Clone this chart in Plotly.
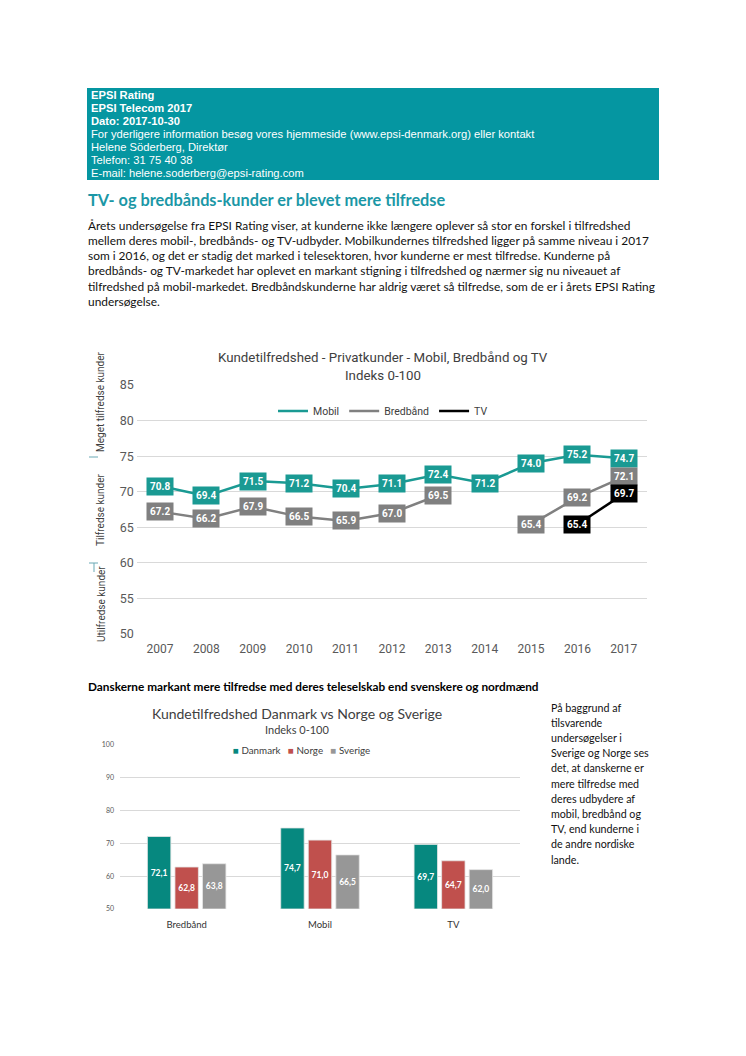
import plotly.graph_objects as go

W, H = 746, 1056
OFF = 8  # page body margin in the viewer
def px(x): return (x - OFF) / W
def py(y): return 1 - (y - OFF) / H

# ---------------- data ----------------
years = [2007, 2008, 2009, 2010, 2011, 2012, 2013, 2014, 2015, 2016, 2017]
mobil = [70.8, 69.4, 71.5, 71.2, 70.4, 71.1, 72.4, 71.2, 74.0, 75.2, 74.7]
bredbaand = [67.2, 66.2, 67.9, 66.5, 65.9, 67.0, 69.5, None, 65.4, 69.2, 72.1]
tv = [None, None, None, None, None, None, None, None, None, 65.4, 69.7]

bar_cats = ["Bredbånd", "Mobil", "TV"]
danmark = [72.1, 74.7, 69.7]
norge = [62.8, 71.0, 64.7]
sverige = [63.8, 66.5, 62.0]
bar_base = 50

header_lines = [
    "<b>EPSI Rating</b>",
    "<b>EPSI Telecom 2017</b>",
    "<b>Dato: 2017-10-30</b>",
    "For yderligere information besøg vores hjemmeside (www.epsi-denmark.org) eller kontakt",
    "Helene Söderberg, Direktør",
    "Telefon: 31 75 40 38",
    "E-mail: helene.soderberg@epsi-rating.com",
]
para_lines = [
    "Årets undersøgelse fra EPSI Rating viser, at kunderne ikke længere oplever så stor en forskel i tilfredshed",
    "mellem deres mobil-, bredbånds- og TV-udbyder. Mobilkundernes tilfredshed ligger på samme niveau i 2017",
    "som i 2016, og det er stadig det marked i telesektoren, hvor kunderne er mest tilfredse. Kunderne på",
    "bredbånds- og TV-markedet har oplevet en markant stigning i tilfredshed og nærmer sig nu niveauet af",
    "tilfredshed på mobil-markedet. Bredbåndskunderne har aldrig været så tilfredse, som de er i årets EPSI Rating",
    "undersøgelse.",
]
side_lines = [
    "På baggrund af", "tilsvarende", "undersøgelser i", "Sverige og Norge ses",
    "det, at danskerne er", "mere tilfredse med", "deres udbydere af",
    "mobil, bredbånd og", "TV, end kunderne i", "de andre nordiske", "lande.",
]

C_MOBIL = "#1a9a93"
C_BRED = "#808080"
C_TV = "#000000"
C_DK = "#06887f"
C_NO = "#c0504d"
C_SE = "#979797"
TEAL_HDR = "#0596a1"

TXT_FONT = "Lato"
CH_FONT = "Roboto"

fig = go.Figure()

# ---------------- line chart ----------------
for name, vals, col in [("Mobil", mobil, C_MOBIL), ("Bredbånd", bredbaand, C_BRED), ("TV", tv, C_TV)]:
    fig.add_trace(go.Scatter(
        x=years, y=vals, name=name, mode="lines",
        line=dict(color=col, width=2.5), connectgaps=False,
        xaxis="x", yaxis="y", legend="legend", hoverinfo="skip",
    ))

annotations = []
for vals, col in [(mobil, C_MOBIL), (bredbaand, C_BRED), (tv, C_TV)]:
    for xv, v in zip(years, vals):
        if v is None:
            continue
        annotations.append(dict(
            x=xv, y=v, xref="x", yref="y", text=f"<b>{v:.1f}</b>", showarrow=False,
            bgcolor=col, borderpad=3, font=dict(family=CH_FONT, size=10, color="white"),
        ))

# ---------------- bar chart ----------------
bar_series = [("Danmark", danmark, C_DK), ("Norge", norge, C_NO), ("Sverige", sverige, C_SE)]
for name, vals, col in bar_series:
    fig.add_trace(go.Bar(
        x=bar_cats, y=[v - bar_base for v in vals], base=bar_base, name=name,
        marker=dict(color=col, line=dict(color="#e6e6e6", width=0.8)),
        xaxis="x2", yaxis="y2", showlegend=False,
        text=[f"{v:.1f}".replace(".", ",") for v in vals],
        texttemplate="<b>%{text}</b>", textposition="inside", insidetextanchor="middle",
        textangle=0, textfont=dict(family=TXT_FONT, size=8.5, color="white"), hoverinfo="skip",
    ))

bar_legend = "   ".join(f'<span style="color:{c}">■</span> {n}' for n, _, c in bar_series)
annotations.append(dict(
    x=px(301), y=py(750), xref="paper", yref="paper", xanchor="center", yanchor="middle",
    text=bar_legend, showarrow=False, font=dict(family=TXT_FONT, size=9.8, color="#404040"),
))

# ---------------- shapes ----------------
shapes = [
    dict(type="rect", xref="paper", yref="paper", x0=px(87), x1=px(659), y0=py(180), y1=py(88),
         fillcolor=TEAL_HDR, line=dict(width=0), layer="below"),
    dict(type="line", xref="paper", yref="paper", x0=px(89), x1=px(98), y0=py(457), y1=py(457),
         line=dict(color="#6aa9b5", width=1)),
    dict(type="line", xref="paper", yref="paper", x0=px(89), x1=px(98), y0=py(563), y1=py(563),
         line=dict(color="#6aa9b5", width=1)),
    dict(type="line", xref="paper", yref="paper", x0=px(94), x1=px(94), y0=py(563), y1=py(572),
         line=dict(color="#6aa9b5", width=1)),
]

for i, t in enumerate(header_lines):
    annotations.append(dict(
        x=px(89), y=py(95 + 13 * i), xref="paper", yref="paper", xanchor="left", yanchor="middle",
        text=t, showarrow=False, font=dict(family="Liberation Sans", size=11.2, color="white"),
    ))

annotations.append(dict(
    x=px(86), y=py(199), xref="paper", yref="paper", xanchor="left", yanchor="middle",
    text="<b>TV- og bredbånds-kunder er blevet mere tilfredse</b>", showarrow=False,
    font=dict(family=TXT_FONT, size=16.3, color="#1b97a6"),
))
for i, t in enumerate(para_lines):
    annotations.append(dict(
        x=px(86), y=py(225 + 15.3 * i), xref="paper", yref="paper", xanchor="left", yanchor="middle",
        text=t, showarrow=False, font=dict(family=TXT_FONT, size=11.9, color="#111111"),
    ))

annotations += [
    dict(x=px(383), y=py(357), xref="paper", yref="paper", xanchor="center", yanchor="middle",
         text="Kundetilfredshed - Privatkunder - Mobil, Bredbånd og TV", showarrow=False,
         font=dict(family=CH_FONT, size=13.3, color="#404040")),
    dict(x=px(383), y=py(375), xref="paper", yref="paper", xanchor="center", yanchor="middle",
         text="Indeks 0-100", showarrow=False, font=dict(family=CH_FONT, size=13.3, color="#404040")),
]
for t, yc in [("Meget tilfredse kunder", 402), ("Tilfredse kunder", 510), ("Utilfredse kunder", 604)]:
    annotations.append(dict(
        x=px(101), y=py(yc), xref="paper", yref="paper", xanchor="center", yanchor="middle",
        text=t, textangle=-90, showarrow=False, font=dict(family=CH_FONT, size=10, color="#404040"),
    ))

annotations.append(dict(
    x=px(86), y=py(686), xref="paper", yref="paper", xanchor="left", yanchor="middle",
    text="<b>Danskerne markant mere tilfredse med deres teleselskab end svenskere og nordmænd</b>",
    showarrow=False, font=dict(family=TXT_FONT, size=11.8, color="#000000"),
))
annotations += [
    dict(x=px(297), y=py(713), xref="paper", yref="paper", xanchor="center", yanchor="middle",
         text="Kundetilfredshed Danmark vs Norge og Sverige", showarrow=False,
         font=dict(family=TXT_FONT, size=14, color="#404040")),
    dict(x=px(297), y=py(729), xref="paper", yref="paper", xanchor="center", yanchor="middle",
         text="Indeks 0-100", showarrow=False, font=dict(family=TXT_FONT, size=11, color="#404040")),
]
for i, t in enumerate(side_lines):
    annotations.append(dict(
        x=px(549), y=py(707 + 15.2 * i), xref="paper", yref="paper", xanchor="left", yanchor="middle",
        text=t, showarrow=False, font=dict(family=TXT_FONT, size=10.7, color="#111111"),
    ))

fig.update_layout(
    width=W, height=H, margin=dict(l=0, r=0, t=0, b=0, pad=0, autoexpand=False),
    paper_bgcolor="white", plot_bgcolor="white",
    showlegend=True,
    barmode="group", bargap=0.38, bargroupgap=0.15,
    xaxis=dict(domain=[px(136.8), px(647)], range=[2006.5, 2017.5], tickvals=years,
               showgrid=False, showline=False, zeroline=False, automargin=False,
               ticks="", ticklabelstandoff=6,
               tickfont=dict(family=CH_FONT, size=12, color="#595959"), anchor="y",
               fixedrange=True),
    yaxis=dict(domain=[py(634), py(385)], range=[50, 85], tickvals=[50, 55, 60, 65, 70, 75, 80, 85],
               showgrid=True, gridcolor="#d9d9d9", gridwidth=1, zeroline=False, showline=False,
               automargin=False, ticklabelstandoff=2,
               tickfont=dict(family=CH_FONT, size=12.5, color="#595959"), anchor="x", fixedrange=True),
    xaxis2=dict(domain=[px(120), px(520)], type="category", showgrid=False, showline=False, ticks="",
                automargin=False, ticklabelstandoff=8,
                tickfont=dict(family=TXT_FONT, size=9.5, color="#333333"), anchor="y2", fixedrange=True),
    yaxis2=dict(domain=[py(909), py(745)], range=[50, 100], tickvals=[50, 60, 70, 80, 90, 100],
                showgrid=True, gridcolor="#d9d9d9", gridwidth=1, zeroline=False, showline=False,
                automargin=False, ticklabelstandoff=5,
                tickfont=dict(family=TXT_FONT, size=7, color="#595959"), anchor="x2", fixedrange=True),
    legend=dict(orientation="h", x=px(383), y=py(411), xanchor="center", yanchor="middle",
                bgcolor="rgba(0,0,0,0)", font=dict(family=CH_FONT, size=10.5, color="#404040"),
                itemwidth=30, tracegroupgap=0),
    shapes=shapes,
    annotations=annotations,
)

fig.write_html("out.html")
